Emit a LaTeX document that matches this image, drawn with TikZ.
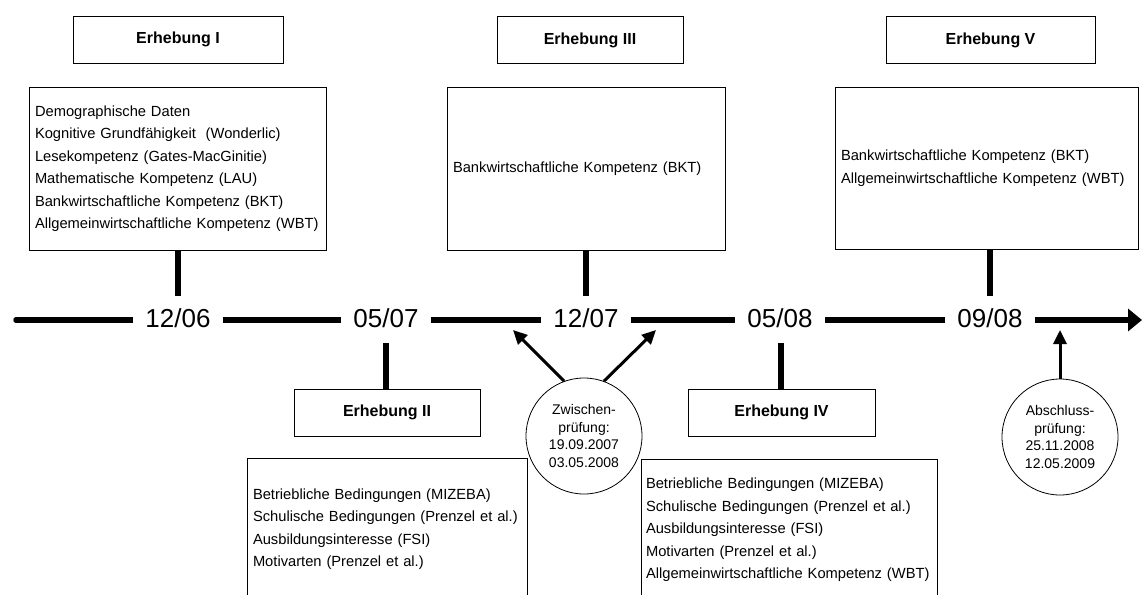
\documentclass[tikz,border=0pt]{standalone}
\usepackage{fontspec}
\setmainfont{Liberation Sans}
\usetikzlibrary{arrows.meta}

\begin{document}
\begin{tikzpicture}[x=1pt,y=-1pt]

          \tikzstyle{titleBox} = [draw, line width=0.8pt, minimum height=47pt, font=\fontsize{16}{19}\selectfont\bfseries];
          \tikzstyle{contentBox} = [draw, line width=0.8pt, inner xsep=6pt, align=left, font=\fontsize{14.7}{22.5}\selectfont];
          \tikzstyle{dateNode} = [fill=white, inner xsep=12pt, inner ysep=4pt, font=\fontsize{26}{30}\selectfont];
          \tikzstyle{examNode} = [draw, circle, line width=0.8pt, minimum size=116pt, inner sep=0pt, align=center, font=\fontsize{14}{17.4}\selectfont];

          \tikzstyle{timeEdge} = [line width=5.5pt, line cap=round, -{Triangle[length=14pt,width=22pt]}];
          \tikzstyle{stickEdge} = [line width=6pt];
          \tikzstyle{examEdge} = [line width=3pt, -{Triangle[length=14pt,width=13pt]}];

          \path[use as bounding box] (0,0) rectangle (1142,594);
          \clip (0,0) rectangle (1142,594);

          % timeline
          \coordinate (tStart) at (16,320);
          \coordinate (tEnd) at (1142,320);
          \draw[timeEdge] (tStart) -- (tEnd);

          \node[dateNode] (d1) at (178,318) {12/06};
          \node[dateNode] (d2) at (386,318) {05/07};
          \node[dateNode] (d3) at (586,318) {12/07};
          \node[dateNode] (d4) at (780,318) {05/08};
          \node[dateNode] (d5) at (990,318) {09/08};

          % upper surveys
          \node[titleBox, minimum width=210pt] (tit1) at (178,39.5) {Erhebung I};
          \node[titleBox, minimum width=186pt] (tit3) at (590,40) {Erhebung III};
          \node[titleBox, minimum width=209pt] (tit5) at (990.5,40) {Erhebung V};

          \node[contentBox, text width=285pt, minimum height=163pt] (inh1) at (177.5,168.5) {Demographische Daten\\Kognitive Grundfähigkeit~ (Wonderlic)\\Lesekompetenz (Gates-MacGinitie)\\Mathematische Kompetenz (LAU)\\Bankwirtschaftliche Kompetenz (BKT)\\Allgemeinwirtschaftliche Kompetenz (WBT)};
          \node[contentBox, text width=266pt, minimum height=163pt] (inh3) at (586,168.5) {Bankwirtschaftliche Kompetenz (BKT)};
          \node[contentBox, text width=291pt, minimum height=162pt] (inh5) at (986.5,168) {Bankwirtschaftliche Kompetenz (BKT)\\Allgemeinwirtschaftliche Kompetenz (WBT)};

          \coordinate (s1) at (178,296);
          \coordinate (s3) at (586,296);
          \coordinate (s5) at (990,296);
          \draw[stickEdge] (s1 |- inh1.south) -- (s1);
          \draw[stickEdge] (s3 |- inh3.south) -- (s3);
          \draw[stickEdge] (s5 |- inh5.south) -- (s5);

          % lower surveys
          \node[titleBox, minimum width=186pt] (tit2) at (387,412.5) {Erhebung II};
          \node[titleBox, minimum width=187pt] (tit4) at (781.5,412.5) {Erhebung IV};

          \node[contentBox, text width=268pt, minimum height=142pt] (inh2) at (387,529) {Betriebliche Bedingungen (MIZEBA)\\Schulische Bedingungen (Prenzel et al.)\\Ausbildungsinteresse (FSI)\\Motivarten (Prenzel et al.)};
          \node[contentBox, inner xsep=4.5pt, text width=287pt, minimum height=142pt] (inh4) at (789.5,530) {Betriebliche Bedingungen (MIZEBA)\\Schulische Bedingungen (Prenzel et al.)\\Ausbildungsinteresse (FSI)\\Motivarten (Prenzel et al.)\\Allgemeinwirtschaftliche Kompetenz (WBT)};

          \coordinate (s2) at (386,343);
          \coordinate (s4) at (781,343);
          \draw[stickEdge] (s2) -- (s2 |- tit2.north);
          \draw[stickEdge] (s4) -- (s4 |- tit4.north);

          % exams
          \node[examNode] (zw) at (584,436) {Zwischen-\\prüfung:\\19.09.2007\\03.05.2008};
          \node[examNode] (ab) at (1060,437) {Abschluss-\\prüfung:\\25.11.2008\\12.05.2009};

          \coordinate (zwL) at (513,330);
          \coordinate (zwR) at (656,330);
          \coordinate (abT) at (1060,330);
          \draw[examEdge] (zw.110) -- (zwL);
          \draw[examEdge] (zw.70) -- (zwR);
          \draw[examEdge] (ab.north) -- (abT);
        \end{tikzpicture}
\end{document}
